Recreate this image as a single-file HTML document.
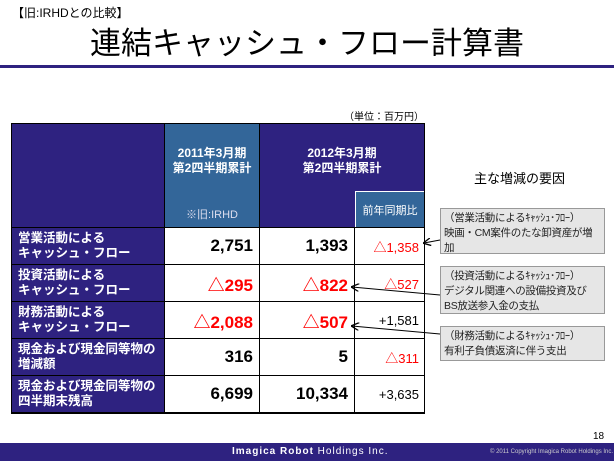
<!DOCTYPE html>
<html><head><meta charset="utf-8"><style>
body{margin:0;width:614px;height:461px;position:relative;background:#fff;font-family:"Liberation Sans","Noto Sans CJK JP",sans-serif;overflow:hidden}
.a{position:absolute}
.nv{background:#2e2280}
.bl{background:#336699}
.lbl{color:#fff;font-weight:bold;font-size:12.5px;line-height:15px;padding-left:6px;box-sizing:border-box;display:flex;align-items:center}
.num{font-weight:bold;font-size:17px;text-align:right;box-sizing:border-box;padding-right:6px;display:flex;align-items:center;justify-content:flex-end;background:#fff}
.sm{font-size:13px;text-align:right;box-sizing:border-box;padding-right:5px;display:flex;align-items:center;justify-content:flex-end;background:#fff}
.red{color:#f00}
.box{background:#e6e6e6;border:1px solid #999;font-size:10.5px;line-height:15px;padding:2px 3px;box-sizing:border-box;color:#222;letter-spacing:-0.3px;white-space:nowrap}
</style></head><body>
<div class="a" style="left:12px;top:4px;font-size:12px">【旧:IRHDとの比較】</div>
<div class="a" style="left:90px;top:18px;font-size:31px;color:#000">連結キャッシュ・フロー計算書</div>
<div class="a nv" style="left:0;top:65px;width:614px;height:3px"></div>
<div class="a" style="left:344px;top:108px;font-size:10px">（単位：百万円）</div>

<div class="a" style="left:11px;top:123px;width:414px;height:291px;background:#000">
 <div class="a nv" style="left:1px;top:1px;width:152px;height:103px"></div>
 <div class="a bl" style="left:154px;top:1px;width:94px;height:103px;color:#fff;text-align:center">
  <div style="font-weight:bold;font-size:12px;line-height:15px;margin-top:22px">2011年3月期<br>第2四半期累計</div>
  <div style="font-size:11px;margin-top:30px;color:#dde">※旧:IRHD</div></div>
 <div class="a nv" style="left:249px;top:1px;width:164px;height:103px;color:#fff;text-align:center">
  <div style="font-weight:bold;font-size:12px;line-height:15px;margin-top:22px">2012年3月期<br>第2四半期累計</div></div>
 <div class="a bl" style="left:344px;top:68px;width:69px;height:36px;color:#fff;font-size:11px;display:flex;align-items:center;justify-content:center;border-left:1px solid #fff;border-top:1px solid #fff;box-sizing:border-box">前年同期比</div>
 <div class="a" style="left:1px;top:105px;width:412px;height:185px">
  <div class="a lbl nv" style="left:0;top:0;width:152px;height:36px">営業活動による<br>キャッシュ・フロー</div>
  <div class="a num" style="left:153px;top:0;width:94px;height:36px">2,751</div>
  <div class="a num" style="left:248px;top:0;width:94px;height:36px">1,393</div>
  <div class="a sm red" style="left:343px;top:0;width:69px;height:36px">△1,358</div>

  <div class="a lbl nv" style="left:0;top:37px;width:152px;height:36px">投資活動による<br>キャッシュ・フロー</div>
  <div class="a num red" style="left:153px;top:37px;width:94px;height:36px">△295</div>
  <div class="a num red" style="left:248px;top:37px;width:94px;height:36px">△822</div>
  <div class="a sm red" style="left:343px;top:37px;width:69px;height:36px">△527</div>

  <div class="a lbl nv" style="left:0;top:74px;width:152px;height:36px">財務活動による<br>キャッシュ・フロー</div>
  <div class="a num red" style="left:153px;top:74px;width:94px;height:36px">△2,088</div>
  <div class="a num red" style="left:248px;top:74px;width:94px;height:36px">△507</div>
  <div class="a sm" style="left:343px;top:74px;width:69px;height:36px">+1,581</div>

  <div class="a lbl nv" style="left:0;top:111px;width:152px;height:36px">現金および現金同等物の<br>増減額</div>
  <div class="a num" style="left:153px;top:111px;width:94px;height:36px">316</div>
  <div class="a num" style="left:248px;top:111px;width:94px;height:36px">5</div>
  <div class="a sm red" style="left:343px;top:111px;width:69px;height:36px">△311</div>

  <div class="a lbl nv" style="left:0;top:148px;width:152px;height:36px">現金および現金同等物の<br>四半期末残高</div>
  <div class="a num" style="left:153px;top:148px;width:94px;height:36px">6,699</div>
  <div class="a num" style="left:248px;top:148px;width:94px;height:36px">10,334</div>
  <div class="a sm" style="left:343px;top:148px;width:69px;height:36px">+3,635</div>
 </div>
</div>

<div class="a" style="left:474px;top:168px;font-size:13px">主な増減の要因</div>
<div class="a box" style="left:440px;top:208px;width:165px;height:46px">（営業活動によるｷｬｯｼｭ･ﾌﾛｰ）<br>映画・CM案件のたな卸資産が増<br>加</div>
<div class="a box" style="left:440px;top:266px;width:165px;height:48px">（投資活動によるｷｬｯｼｭ･ﾌﾛｰ）<br>デジタル関連への設備投資及び<br>BS放送参入金の支払</div>
<div class="a box" style="left:440px;top:326px;width:165px;height:35px">（財務活動によるｷｬｯｼｭ･ﾌﾛｰ）<br>有利子負債返済に伴う支出</div>
<svg class="a" style="left:0;top:0" width="614" height="461">
<defs><marker id="ah" markerWidth="8" markerHeight="8" refX="7" refY="4" orient="auto"><path d="M0,0L8,4L0,8" fill="none" stroke="#000" stroke-width="1.3"/></marker></defs>
<line x1="440" y1="240" x2="424" y2="243" stroke="#000" marker-end="url(#ah)"/>
<line x1="440" y1="295" x2="352" y2="287" stroke="#000" marker-end="url(#ah)"/>
<line x1="440" y1="334" x2="352" y2="326" stroke="#000" marker-end="url(#ah)"/>
</svg>
<div class="a" style="left:593px;top:431px;font-size:10px">18</div>
<div class="a nv" style="left:0;top:443px;width:614px;height:18px"></div>
<div class="a" style="left:232px;top:446px;font-size:10px;color:#fff;letter-spacing:1px"><b>Imagica Robot</b> Holdings Inc.</div>
<div class="a" style="left:490px;top:449px;font-size:6px;color:#ccc">© 2011 Copyright Imagica Robot Holdings Inc.</div>
</body></html>
